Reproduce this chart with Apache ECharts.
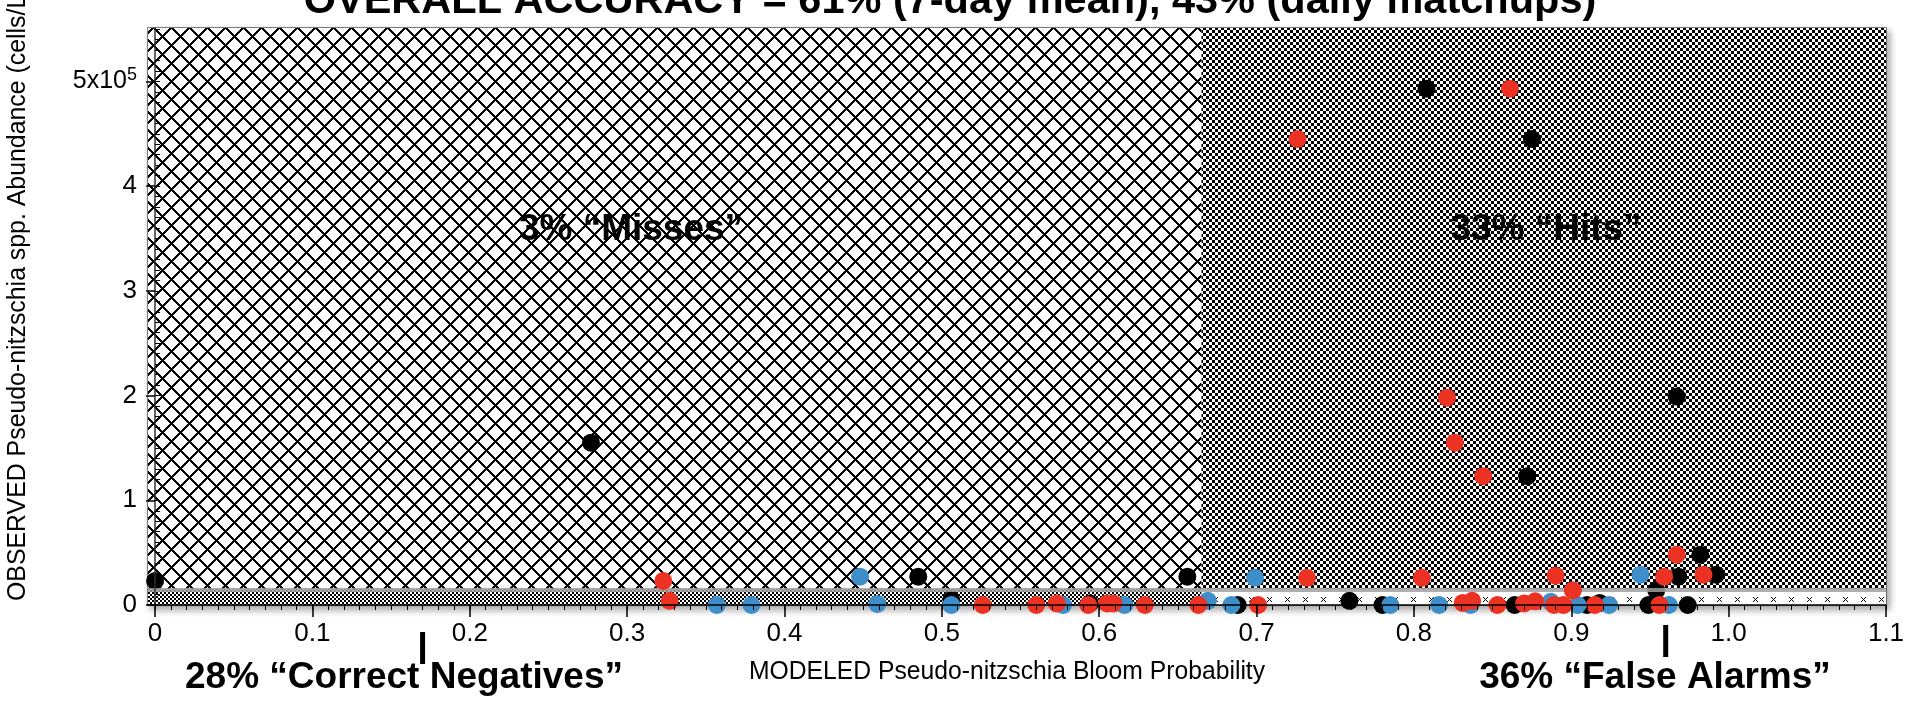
<!DOCTYPE html>
<html><head><meta charset="utf-8">
<script src="https://cdn.jsdelivr.net/npm/echarts@6/dist/echarts.min.js"></script>
<style>html,body{margin:0;padding:0;background:#fff}#c{width:1920px;height:709px}</style>
</head><body><div id="c"></div>
<script>
// ---------- texts ----------
const titleText = 'OVERALL ACCURACY = 61% (7-day mean), 43% (daily matchups)';
const xAxisName = 'MODELED Pseudo-nitzschia Bloom Probability';
const yAxisName = 'OBSERVED Pseudo-nitzschia spp. Abundance (cells/L)';
const quadrantNames = ['3% \u201cMisses\u201d', '33% \u201cHits\u201d', '28% \u201cCorrect Negatives\u201d', '36% \u201cFalse Alarms\u201d'];
// ---------- axes ----------
const xTickValues = [0, 0.1, 0.2, 0.3, 0.4, 0.5, 0.6, 0.7, 0.8, 0.9, 1.0, 1.1];
const yTickValues = [0, 100000, 200000, 300000, 400000, 500000];
const xMin = -0.0045, xMax = 1.1, yMin = 0, yMax = 551000;
const xThreshold = 0.665;
const yThreshold = 15000;
const barMarkerX = [0.17, 0.96];
// ---------- data [probability, cells/L] ----------
const seriesBlack = [
  [0, 23000], [0.277, 155000], [0.485, 27000], [0.506, 5000], [0.594, 1500],
  [0.656, 27000], [0.688, 0], [0.759, 4000], [0.780, 0], [0.808, 493000],
  [0.864, 0], [0.872, 123000], [0.875, 445000], [0.910, 0], [0.918, 2000],
  [0.949, 0], [0.954, 14000], [0.967, 199000], [0.968, 27000], [0.974, 0],
  [0.982, 48000], [0.992, 29000]
];
const seriesBlue = [
  [0.357, 0], [0.379, 0], [0.448, 27000], [0.459, 1000], [0.506, 0],
  [0.577, 0], [0.616, 0], [0.669, 4000], [0.684, 0], [0.699, 26000],
  [0.785, 0], [0.816, 0], [0.836, 0], [0.887, 3000], [0.904, 0],
  [0.924, 0], [0.944, 29000], [0.962, 0]
];
const seriesRed = [
  [0.323, 23000], [0.327, 4000], [0.526, 0], [0.560, 0], [0.573, 1500],
  [0.593, 0], [0.605, 1500], [0.609, 1500], [0.629, 0], [0.663, 0],
  [0.701, 0], [0.726, 445000], [0.732, 26000], [0.805, 26000], [0.821, 198000],
  [0.826, 155000], [0.831, 2000], [0.837, 4000], [0.844, 123000], [0.853, 0],
  [0.861, 493000], [0.870, 1500], [0.877, 3500], [0.889, 0], [0.890, 28000],
  [0.895, 0], [0.901, 14000], [0.915, 0], [0.956, 0], [0.959, 27000],
  [0.967, 48000], [0.984, 29000]
];

// ---------- fill patterns ----------
function makeCanvas(w, h, painter) {
  const c = document.createElement('canvas'); c.width = w; c.height = h;
  const g = c.getContext('2d'); g.fillStyle = '#fff'; g.fillRect(0, 0, w, h);
  g.fillStyle = '#000'; painter(g, w, h); return c;
}
const crossTile = makeCanvas(18, 18, (g, w) => {
  for (let i = 0; i < w; i++) {
    g.fillRect(i, i, 2, 2); g.fillRect((i + w - 1) % w, i, 1, 1);
    g.fillRect(w - 1 - i, i, 2, 2); g.fillRect((w - i) % w, i, 1, 1);
  }
});
const checker3 = makeCanvas(6, 6, g => { g.fillRect(0, 0, 3, 3); g.fillRect(3, 3, 3, 3); });
const checker2 = makeCanvas(4, 4, g => { g.fillRect(0, 0, 2, 2); g.fillRect(2, 2, 2, 2); });
const xMarkTile = makeCanvas(18, 28, g => {
  const cx = 9, cy = 11;
  for (let d = -2; d <= 2; d++) { g.fillRect(cx + d, cy + d, 1, 1); g.fillRect(cx + d, cy - d, 1, 1); }
});
const pat = c => ({ image: c, repeat: 'repeat' });

const chart = echarts.init(document.getElementById('c'));
const FONT = 'Liberation Sans, Arial, sans-serif';

function dotSeries(name, data, color, z) {
  return { name, type: 'scatter', data, symbol: 'circle', symbolSize: 18, clip: false, z,
    itemStyle: { color, opacity: 1 }, emphasis: { disabled: true } };
}

const option = {
  animation: false,
  backgroundColor: '#fff',
  grid: { left: 148, right: 34, top: 28, bottom: 104, show: true, backgroundColor: '#fff',
    borderColor: '#555', borderWidth: 1.5, shadowColor: 'rgba(0,0,0,0.35)', shadowBlur: 7,
    shadowOffsetX: 3, shadowOffsetY: 4, containLabel: false },
  xAxis: [
    { type: 'value', min: xMin, max: xMax, z: 10,
      axisLine: { show: true, onZero: false, lineStyle: { color: '#000', width: 1.5 } },
      axisTick: { show: true, length: 12, customValues: xTickValues, lineStyle: { color: '#000', width: 1.5 } },
      axisLabel: { show: true, customValues: xTickValues, margin: 16, fontSize: 26, fontFamily: FONT, color: '#000',
        formatter: v => (v === 0 ? '0' : v.toFixed(1)) },
      splitLine: { show: false } },
    { type: 'value', min: xMin, max: xMax, position: 'bottom', z: 10,
      axisLine: { show: false },
      axisTick: { show: true, length: 5, customValues: Array.from({ length: 111 }, (_, i) => +(i * 0.01).toFixed(2)),
        lineStyle: { color: '#000', width: 1 } },
      axisLabel: { show: false }, splitLine: { show: false } }
  ],
  yAxis: [
    { type: 'value', min: yMin, max: yMax, z: 10,
      axisLine: { show: true, lineStyle: { color: '#333', width: 1.5 } },
      axisTick: { show: true, length: 9, customValues: yTickValues, lineStyle: { color: '#000', width: 1.5 } },
      axisLabel: { show: true, customValues: yTickValues, margin: 11, fontSize: 26, fontFamily: FONT, color: '#000',
        formatter: v => (v === 500000 ? '{b|5x10}{s|5}' : String(v / 100000)),
        rich: { b: { fontSize: 25, fontFamily: FONT, color: '#000' },
                s: { fontSize: 18, fontFamily: FONT, color: '#000', verticalAlign: 'top', padding: [0, 0, 12, 0] } } },
      splitLine: { show: false } },
    { type: 'value', min: yMin, max: yMax, position: 'left', z: 10,
      axisLine: { show: false },
      axisTick: { show: true, inside: true, length: 5, customValues: Array.from({ length: 56 }, (_, i) => i * 10000),
        lineStyle: { color: '#000', width: 1 } },
      axisLabel: { show: false }, splitLine: { show: false } }
  ],
  series: [
    { type: 'scatter', data: [], z: 1, silent: true,
      markArea: { silent: true, label: { show: false },
        data: [
          [{ xAxis: xMin, yAxis: yThreshold, itemStyle: { color: pat(crossTile) } }, { xAxis: xThreshold, yAxis: yMax }],
          [{ xAxis: xThreshold, yAxis: yThreshold, itemStyle: { color: pat(checker3) } }, { xAxis: xMax, yAxis: yMax }],
          [{ xAxis: xMin, yAxis: yMin, itemStyle: { color: pat(checker2) } }, { xAxis: xThreshold, yAxis: yThreshold }],
          [{ xAxis: xThreshold, yAxis: yMin, itemStyle: { color: pat(xMarkTile) } }, { xAxis: xMax, yAxis: yThreshold }]
        ] },
      markLine: { silent: true, symbol: 'none', label: { show: false },
        lineStyle: { color: 'rgba(160,160,160,0.85)', width: 4, type: 'solid' },
        data: [{ yAxis: yThreshold }] } },
    dotSeries('black', seriesBlack, '#000000', 3),
    dotSeries('blue', seriesBlue, '#3d8ec9', 4),
    dotSeries('red', seriesRed, '#ec3323', 5)
  ]
};
chart.setOption(option);

const bx = barMarkerX.map(v => chart.convertToPixel({ xAxisIndex: 0 }, v));
const T = (x, y, text, font, extra) => Object.assign({ type: 'text', x, y, z: 100, zlevel: 0,
  style: { text, font, fill: '#000', align: 'center', verticalAlign: 'middle' } }, extra || {});
chart.setOption({
  graphic: [
    T(950, 2, titleText, 'bold 41.5px ' + FONT),
    T(631, 230, quadrantNames[0], 'bold 37px ' + FONT),
    T(1546, 230, quadrantNames[1], 'bold 37px ' + FONT),
    T(404, 678, quadrantNames[2], 'bold 37px ' + FONT),
    T(1655, 678, quadrantNames[3], 'bold 37px ' + FONT),
    T(1007, 672, xAxisName, '26px ' + FONT, { scaleX: 0.95 }),
    { type: 'text', x: 18, y: 601, z: 100, rotation: Math.PI / 2, scaleX: 0.975,
      style: { text: yAxisName, font: '25.5px ' + FONT, fill: '#000', align: 'left', verticalAlign: 'middle' } },
    { type: 'rect', z: 100, shape: { x: bx[0] - 2.5, y: 632, width: 5, height: 32 }, style: { fill: '#000' } },
    { type: 'rect', z: 100, shape: { x: bx[1] - 2.5, y: 625, width: 5, height: 32 }, style: { fill: '#000' } }
  ]
});
</script></body></html>
